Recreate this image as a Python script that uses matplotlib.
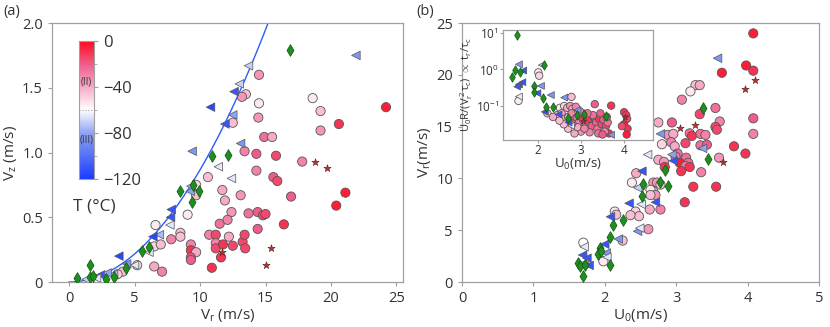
import matplotlib
matplotlib.use('Agg')
import matplotlib.pyplot as plt
import numpy as np
from matplotlib.colors import LinearSegmentedColormap, Normalize
from matplotlib.cm import ScalarMappable

plt.rcParams['font.family'] = ['Open Sans', 'DejaVu Sans']
plt.rcParams['mathtext.fontset'] = 'custom'
plt.rcParams['mathtext.rm'] = 'Open Sans'
plt.rcParams['mathtext.it'] = 'Open Sans'

# ---- panel (a): Vr, Vz, temperature ----
a_circ_vr = [14.5, 13.5, 13.2, 14.5, 12.5, 14.45, 13.4, 14.3, 14.9, 15.5, 15.8, 14.3, 15.6, 15.9,
             10.6, 11.7, 11.9, 13.1, 9.05, 9.7, 9.7, 12.4, 13.7, 14.4, 14.8, 15.0, 14.4, 11.5, 12.1,
             16.95, 16.4, 17.8, 18.6, 19.2, 19.2, 20.6, 24.2, 20.4, 21.1, 6.6, 6.5, 7.0, 7.8, 8.5,
             8.5, 9.3, 9.3, 9.7, 9.3, 9.3, 10.7, 11.2, 11.2, 11.2, 11.75, 12.2, 12.5, 13.25, 13.4,
             13.45, 10.9, 11.6, 6.5, 7.1, 5.2, 4.1, 3.7]
a_circ_vz = [1.60, 1.45, 1.43, 1.38, 1.23, 1.27, 1.01, 0.99, 1.12, 1.12, 0.975, 0.86, 0.81, 0.78,
             0.81, 0.71, 0.63, 0.67, 0.52, 0.75, 0.67, 0.54, 0.53, 0.54, 0.515, 0.525, 0.41, 0.45, 0.48,
             0.66, 0.445, 0.93, 1.42, 1.32, 1.17, 1.22, 1.35, 0.59, 0.69, 0.44, 0.275, 0.29, 0.33, 0.38,
             0.35, 0.29, 0.245, 0.23, 0.19, 0.17, 0.365, 0.365, 0.30, 0.26, 0.29, 0.35, 0.28, 0.31, 0.365,
             0.26, 0.11, 0.19, 0.12, 0.08, 0.13, 0.08, 0.06]
a_circ_T = [-35, -45, -35, -55, -45, -35, -30, -20, -25, -40, -15, -30, -20, -15,
            -45, -40, -40, -35, -55, -50, -45, -35, -25, -20, -15, -15, -20, -25, -30,
            -20, -10, -30, -55, -45, -35, -10, -5, -5, -5, -55, -50, -45, -30, -45,
            -45, -30, -10, -40, -20, -20, -30, -15, -30, -15, -10, -40, -15, -15, -15,
            -15, -10, -10, -40, -30, -50, -45, -50]

a_tri_vr = [21.9, 13.7, 13.0, 12.6, 10.8, 12.5, 11.9, 13.1, 9.4, 11.4, 12.4, 9.3, 9.25, 7.8, 7.75,
            7.7, 6.9, 6.4, 6.1, 3.8, 4.4, 5.0, 3.4, 2.4, 2.9, 2.1, 1.3]
a_tri_vz = [1.75, 1.67, 1.53, 1.47, 1.35, 1.29, 1.22, 1.07, 1.01, 0.89, 0.80, 0.74, 0.70, 0.56, 0.50,
            0.44, 0.365, 0.35, 0.23, 0.20, 0.14, 0.13, 0.06, 0.055, 0.07, 0.03, 0.02]
a_tri_T = [-85, -70, -70, -110, -115, -80, -110, -85, -85, -65, -65, -75, -80, -110, -110,
           -65, -75, -115, -65, -115, -85, -65, -75, -110, -80, -65, -70]

a_dia_vr = [16.9, 10.9, 12.1, 8.45, 9.9, 9.4, 9.5, 6.1, 5.6, 4.35, 3.4, 2.8, 1.6, 0.6, 1.6, 1.85]
a_dia_vz = [1.795, 0.97, 0.98, 0.70, 0.705, 0.615, 0.75, 0.27, 0.24, 0.11, 0.04, 0.02, 0.13, 0.03, 0.035, 0.05]

a_star_vr = [18.8, 19.7, 15.4, 15.0, 11.65]
a_star_vz = [0.93, 0.88, 0.26, 0.13, 0.23]

fit_coef = 0.00866  # Vz ~ c * Vr^2

# ---- panel (b): U0, Vr, temperature ----
b_circ_u = [4.08, 3.98, 4.08, 3.64, 3.27, 3.33, 3.2, 3.08, 3.55, 3.33, 4.08, 2.94, 3.61, 2.75,
            3.55, 3.57, 4.08, 2.88, 2.96, 3.19, 3.22, 3.34, 3.41, 2.8, 2.93, 2.98, 3.13, 3.34, 3.43,
            3.81, 3.97, 3.02, 2.99, 3.14, 2.75, 2.83, 3.05, 3.6, 3.17, 3.13, 3.19, 3.07, 3.35, 2.84,
            2.44, 2.38, 2.68, 2.73, 2.78, 2.68, 2.64, 2.71, 2.64, 3.24, 3.56, 3.12, 2.78, 2.63, 2.43,
            2.14, 2.16, 2.48, 2.36, 2.61, 2.25, 1.7, 1.98]
b_circ_vr = [24.0, 20.9, 20.4, 20.2, 19.0, 19.0, 18.4, 17.6, 16.8, 16.2, 15.8, 15.4, 15.5, 15.4,
             14.97, 14.7, 14.3, 14.2, 14.3, 14.35, 14.1, 14.3, 14.2, 13.3, 13.5, 13.1, 13.4, 13.2, 13.25,
             13.1, 12.4, 12.4, 12.1, 12.0, 11.8, 11.6, 11.5, 12.0, 11.5, 11.2, 11.1, 10.7, 10.6, 11.1,
             10.5, 9.6, 9.6, 9.6, 9.4, 8.75, 8.9, 8.4, 8.4, 9.2, 9.2, 7.7, 7.0, 7.0, 6.8,
             6.8, 6.5, 6.35, 6.45, 5.1, 4.0, 3.8, 2.0]
b_circ_T = [-5, -5, -10, -5, -45, -40, -55, -30, -25, -15, -20, -20, -30, -40,
            -15, -15, -30, -35, -40, -25, -10, -25, -30, -50, -30, -40, -15, -25, -20,
            -10, -10, -25, -30, -25, -40, -35, -5, -35, -25, -25, -10, -10, -30, -10,
            -40, -55, -35, -35, -45, -45, -55, -35, -45, -10, -10, -10, -30, -40, -50,
            -55, -45, -45, -45, -35, -45, -60, -55]

b_tri_u = [3.58, 2.78, 2.6, 2.94, 3.37, 2.96, 2.52, 2.46, 2.34, 2.71, 2.51, 2.46, 2.08, 2.19,
           2.0, 2.02, 2.03, 1.71, 1.69, 1.75, 1.71, 1.78, 2.49]
b_tri_vr = [21.6, 14.3, 12.3, 12.3, 12.9, 11.7, 10.7, 9.1, 7.6, 7.7, 7.5, 4.9, 6.3, 4.15,
            3.65, 2.8, 2.4, 3.4, 2.6, 2.3, 1.8, 1.6, 5.2]
b_tri_T = [-85, -85, -65, -80, -80, -110, -110, -70, -110, -110, -65, -85, -110, -85,
           -110, -85, -65, -65, -110, -110, -85, -110, -65]

b_dia_u = [3.37, 3.44, 2.78, 2.89, 2.85, 2.54, 2.52, 2.25, 2.12, 2.08, 1.94, 1.91, 2.08, 1.62,
           1.65, 1.73, 1.69, 1.95]
b_dia_vr = [16.8, 11.9, 9.7, 9.3, 10.8, 9.5, 8.35, 6.0, 5.5, 4.3, 3.3, 2.7, 1.6, 1.85,
            1.5, 1.6, 0.55, 3.0]

b_star_u = [3.96, 4.1, 3.05, 3.27, 3.65]
b_star_vr = [18.6, 19.5, 14.9, 15.2, 11.6]

# ---- inset: U0, log10(U0 R / (Vr^2 tau_c)) ----
i_circ_u = [2.01, 2.03, 1.55, 2.78, 2.51, 2.22, 2.61, 2.68, 2.75, 2.80, 2.88, 3.32, 3.70,
            4.00, 4.05, 4.07, 4.00, 4.08, 4.06, 3.95,
            2.45, 2.55, 2.62, 2.70, 2.78, 2.85, 2.90, 2.95, 3.00, 3.05, 3.10, 3.12, 3.18, 3.20,
            3.25, 3.30, 3.35, 3.38, 3.42, 3.48, 3.52, 3.58, 3.62, 3.65, 3.55, 3.40, 3.20, 3.00,
            2.85, 2.70, 2.60, 2.50, 2.92, 3.08, 3.28, 3.15, 2.98, 3.45, 3.60, 2.35, 2.80, 3.50]
i_circ_ly = [-0.08, -0.17, -0.86, -0.75, -1.05, -1.20, -1.00, -1.05, -1.00, -1.08, -1.02, -0.95, -0.99,
             -1.17, -1.25, -1.35, -1.50, -1.62, -1.78, -1.55,
             -1.25, -1.20, -1.35, -1.30, -1.20, -1.40, -1.32, -1.45, -1.28, -1.38, -1.30, -1.50, -1.42, -1.35,
             -1.55, -1.30, -1.45, -1.62, -1.35, -1.50, -1.38, -1.55, -1.45, -1.75, -1.70, -1.75, -1.72, -1.70,
             -1.75, -1.62, -1.50, -1.40, -1.58, -1.62, -1.25, -1.20, -1.15, -1.20, -1.30, -1.30, -1.48, -1.78]
i_circ_T = [-55, -50, -55, -45, -55, -45, -50, -40, -35, -40, -30, -20, -10,
            -10, -10, -15, -5, -10, -5, -15,
            -45, -40, -40, -35, -30, -35, -25, -30, -20, -15, -10, -25, -15, -10,
            -20, -15, -20, -25, -10, -15, -20, -15, -25, -10, -30, -25, -30, -35,
            -40, -45, -45, -45, -40, -30, -25, -25, -30, -20, -20, -40, -20, -20]

i_tri_u = [1.56, 1.66, 2.09, 1.56, 1.64, 1.52, 2.07, 1.99, 2.30, 1.56, 2.61, 2.16, 2.48, 2.92,
           2.77, 3.70, 2.71]
i_tri_ly = [0.14, -0.03, 0.12, -0.41, -0.35, -0.47, -0.45, -0.65, -0.70, -0.74, -0.77, -1.16, -1.23,
            -1.11, -1.54, -1.79, -1.45]
i_tri_T = [-85, -110, -70, -110, -110, -110, -85, -110, -85, -65, -85, -110, -110, -85,
           -65, -85, -110]

i_dia_u = [1.52, 2.14, 1.46, 1.59, 1.40, 1.90, 1.92, 2.13, 2.19, 2.36, 2.69, 3.08, 3.58, 2.91]
i_dia_ly = [0.945, 0.12, -0.01, -0.08, -0.22, -0.44, -0.62, -0.79, -1.02, -1.04, -1.34, -1.23, -1.27, -1.25]

i_star_u = [4.02, 3.05]
i_star_ly = [-1.3, -1.4]

# colour map for temperature
tcmap = LinearSegmentedColormap.from_list('temp', [
    (0.0, '#1a3cff'), (0.33, '#8da2f2'), (0.5, '#ffffff'),
    (0.67, '#f7a8c6'), (0.83, '#ef5f8c'), (1.0, '#ff0a1e')])
tnorm = Normalize(-120, 0)

edge = '#555555'
green = '#1e8f1e'
starc = '#c0302a'
txtc = '#333333'
spc = '#a0a0a0'


def style(ax, fs=10.5):
    for s in ax.spines.values():
        s.set_color(spc)
        s.set_linewidth(0.9)
    ax.tick_params(colors=spc, labelcolor=txtc, labelsize=fs, length=3, width=0.8)


def draw(ax, cx, cy, cT, tx, ty, tT, dx, dy, sx, sy, k=1.0):
    ax.scatter(cx, cy, c=cT, cmap=tcmap, norm=tnorm, s=44 * k, marker='o',
               edgecolors=edge, linewidths=0.6, zorder=3)
    ax.scatter(tx, ty, c=tT, cmap=tcmap, norm=tnorm, s=38 * k, marker='<',
               edgecolors=edge, linewidths=0.5, zorder=4)
    ax.scatter(dx, dy, c=green, s=36 * k, marker='d', edgecolors='#145214',
               linewidths=0.5, zorder=5)
    ax.scatter(sx, sy, c=starc, s=30 * k, marker='*', edgecolors='#502020',
               linewidths=0.4, zorder=5)


fig = plt.figure(figsize=(8.3, 3.27), dpi=100)

# panel a
ax1 = fig.add_axes([0.0627, 0.1376, 0.4229, 0.792])
draw(ax1, a_circ_vr, a_circ_vz, a_circ_T, a_tri_vr, a_tri_vz, a_tri_T,
     a_dia_vr, a_dia_vz, a_star_vr, a_star_vz)
vv = np.linspace(0, 16, 200)
ax1.plot(vv, fit_coef * vv ** 2, color='#2a5cff', lw=1.0, zorder=2)
ax1.set_xlim(-1.3, 25.5)
ax1.set_ylim(0, 2.0)
ax1.set_xticks([0, 5, 10, 15, 20, 25])
ax1.set_yticks([0, 0.5, 1.0, 1.5, 2.0])
ax1.set_yticklabels(['0', '0.5', '1.0', '1.5', '2.0'])
ax1.set_xlabel(r'V$_\mathrm{r}$ (m/s)', fontsize=11, color=txtc, labelpad=1)
ax1.set_ylabel(r'V$_\mathrm{z}$ (m/s)', fontsize=11, color=txtc, labelpad=2)
style(ax1)
fig.text(0.004, 0.955, '(a)', fontsize=10.5, color=txtc)

# colour bar
cax = fig.add_axes([0.0952, 0.4526, 0.0181, 0.422])
cb = fig.colorbar(ScalarMappable(norm=tnorm, cmap=tcmap), cax=cax)
cb.set_ticks([0, -40, -80, -120])
cb.set_ticklabels(['0', '\u221240', '\u221280', '\u2212120'])
cb.ax.set_yticks([-20, -60, -100], minor=True)
cb.outline.set_edgecolor(spc)
cb.ax.tick_params(colors=spc, labelcolor=txtc, labelsize=12, length=3, width=0.8)
cb.ax.tick_params(which='minor', length=2, colors=spc)
cb.ax.axhline(-60, color='#999999', lw=0.8, ls=':')
cb.ax.text(0.5, -36, '(II)', ha='center', va='center', fontsize=7, color=txtc)
cb.ax.text(0.5, -86, '(III)', ha='center', va='center', fontsize=7, color=txtc)
fig.text(0.088, 0.355, 'T (\u00b0C)', fontsize=12.5, color=txtc)

# panel b
ax2 = fig.add_axes([0.5566, 0.1376, 0.4301, 0.792])
draw(ax2, b_circ_u, b_circ_vr, b_circ_T, b_tri_u, b_tri_vr, b_tri_T,
     b_dia_u, b_dia_vr, b_star_u, b_star_vr)
ax2.set_xlim(0, 5)
ax2.set_ylim(0, 25)
ax2.set_xticks([0, 1, 2, 3, 4, 5])
ax2.set_yticks([0, 5, 10, 15, 20, 25])
ax2.set_xlabel(r'U$_\mathrm{0}$(m/s)', fontsize=11, color=txtc, labelpad=1)
ax2.set_ylabel(r'V$_\mathrm{r}$(m/s)', fontsize=11, color=txtc, labelpad=2)
style(ax2)
fig.text(0.5015, 0.955, '(b)', fontsize=10.5, color=txtc)

# inset
ax3 = fig.add_axes([0.606, 0.5719, 0.1807, 0.3364])
draw(ax3, i_circ_u, 10 ** np.array(i_circ_ly), i_circ_T,
     i_tri_u, 10 ** np.array(i_tri_ly), i_tri_T,
     i_dia_u, 10 ** np.array(i_dia_ly), i_star_u, 10 ** np.array(i_star_ly), k=0.65)
ax3.set_yscale('log')
ax3.set_xlim(1.19, 4.67)
ax3.set_ylim(10 ** -1.93, 10 ** 1.08)
ax3.set_xticks([2, 3, 4])
ax3.set_yticks([0.1, 1, 10])
ax3.set_yticklabels([r'10$^{-1}$', r'10$^{0}$', r'10$^{1}$'])
ax3.minorticks_off()
ax3.set_xlabel(r'U$_\mathrm{0}$(m/s)', fontsize=9.5, color=txtc, labelpad=0)
ax3.set_ylabel(r'U$_\mathrm{0}$R/(V$_\mathrm{r}^{\,2}\,\tau_\mathrm{c}$) $\propto$ t$_\mathrm{r}$/$\tau_\mathrm{c}$',
               fontsize=8, color=txtc)
style(ax3, fs=8.5)
ax3.tick_params(length=2, pad=1)
ax3.yaxis.set_label_coords(-0.185, 0.5)

fig.savefig('out.png', dpi=100)
